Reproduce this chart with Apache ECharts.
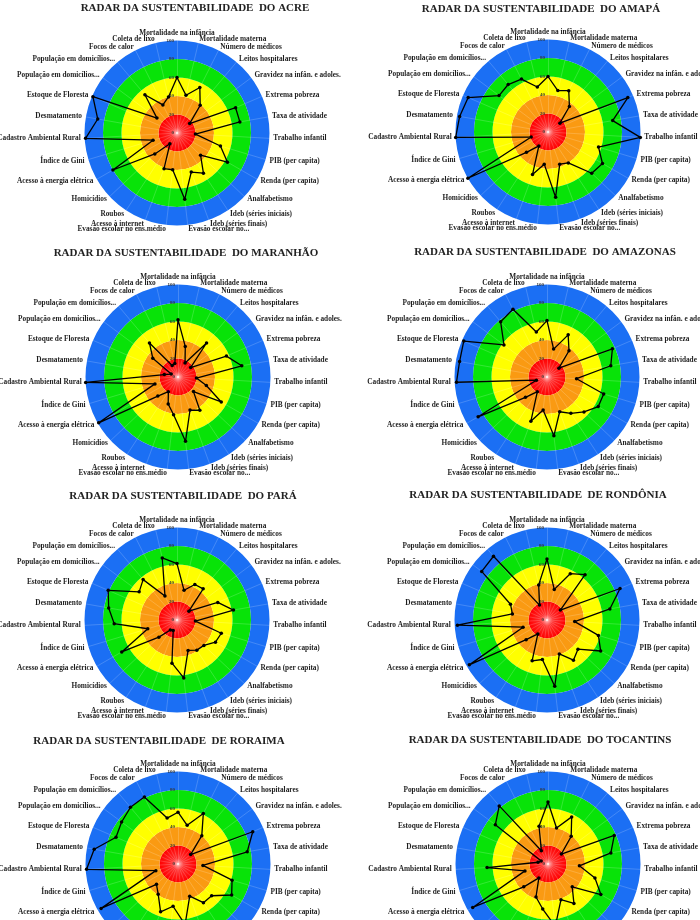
<!DOCTYPE html>
<html><head><meta charset="utf-8">
<script src="https://cdn.jsdelivr.net/npm/echarts@6/dist/echarts.min.js"></script>
<style>html,body{margin:0;padding:0;background:#fff}#c{width:700px;height:920px}</style>
</head><body><div id="c"></div>
<script>
// Indicators, clockwise from the top
const indicatorNames = [
  'Mortalidade na infância', 'Mortalidade materna', 'Número de médicos', 'Leitos hospitalares',
  'Gravidez na infân. e adoles.', 'Extrema pobreza', 'Taxa de atividade', 'Trabalho infantil',
  'PIB (per capita)', 'Renda (per capita)', 'Analfabetismo', 'Ideb (séries iniciais)',
  'Ideb (séries finais)', 'Evasão escolar no...', 'Evasão escolar no ens.médio', 'Acesso à internet',
  'Roubos', 'Homicídios', 'Acesso à energia elétrica', 'Índice de Gini', 'Cadastro Ambiental Rural',
  'Desmatamento', 'Estoque de Floresta', 'População em domicílios...', 'População em domicílios...',
  'Focos de calor', 'Coleta de lixo'
];
const scaleMin = 0;
const scaleMax = 100;
const scaleSplits = 5; // tick labels 0, 20, 40, 60, 80, 100

const titles = [
  'RADAR DA SUSTENTABILIDADE  DO ACRE', 'RADAR DA SUSTENTABILIDADE  DO AMAPÁ',
  'RADAR DA SUSTENTABILIDADE  DO MARANHÃO', 'RADAR DA SUSTENTABILIDADE  DO AMAZONAS',
  'RADAR DA SUSTENTABILIDADE  DO PARÁ', 'RADAR DA SUSTENTABILIDADE  DE RONDÔNIA',
  'RADAR DA SUSTENTABILIDADE  DE RORAIMA', 'RADAR DA SUSTENTABILIDADE  DO TOCANTINS'
];

const acre      = [60,42,55,39,17,69,69,20,49,63,35,52,45,72,40,41,14,33,80,27,99,87,99,27,54,34,40];
const amapa     = [60,46,50,36,16,94,71,100,57,68,65,40,37,71,35,49,18,32,100,19,100,97,94,66,67,64,50];
const maranhao  = [62,34,17,48,17,57,70,20,32,54,23,43,38,70,41,31,19,30,99,26,100,15,8,34,48,14,15];
const amazonas  = [61,31,51,37,16,77,70,32,64,64,55,47,40,64,36,51,19,32,86,12,98,96,98,58,78,82,50];
const para      = [61,33,43,44,16,48,62,20,50,48,40,39,35,63,47,12,13,27,69,33,68,75,81,51,57,29,69];
const rondonia  = [66,34,56,64,18,86,69,30,58,67,46,52,39,72,43,47,18,31,97,27,97,38,43,88,90,18,39];
const roraima   = [56,43,61,40,17,88,76,27,61,67,50,50,37,66,46,55,39,32,96,25,99,92,73,76,80,81,51];
const tocantins = [67,40,57,39,18,78,69,34,53,66,36,51,41,68,49,38,18,36,94,26,66,11,8,71,82,16,42];

const stateSeries = [acre, amapa, maranhao, amazonas, para, rondonia, roraima, tocantins];

// Layout (pixels)
const centers = [[177,133],[548,132],[178,377],[547,377],[177,620],[547,620],[178,864],[548,864]];
const titleCenters = [[195,10],[541,11],[186,255],[545,254],[183,498],[538,497],[159,743],[540,742]];
const radius = 92.5;

// ECharts radar runs counter-clockwise; reorder so the chart reads clockwise
const n = indicatorNames.length;
const order = indicatorNames.map((_, k) => (k === 0 ? 0 : n - k));

const redGrad = new echarts.graphic.RadialGradient(0.5, 0.5, 0.5, [
  {offset: 0, color: '#ff8c8c'}, {offset: 0.3, color: '#ff3030'}, {offset: 1, color: '#ff0000'}
]);
const bandColors = [redGrad, '#fa9a12', '#ffff00', '#08e308', '#1b6ff4'];

const labelFont = {color: '#1e1e1e', fontFamily: 'Liberation Serif', fontWeight: 'bold', fontSize: 7.3};

const radars = centers.map(c => ({
  center: c,
  radius: radius,
  shape: 'circle',
  splitNumber: scaleSplits,
  startAngle: 90,
  nameGap: 4,
  axisName: labelFont,
  indicator: order.map((idx, k) => {
    const o = {name: indicatorNames[idx], min: scaleMin, max: scaleMax};
    if (k === 0) {
      o.axisLabel = {show: true, fontSize: 5, color: '#333', fontWeight: 'bold', fontFamily: 'Liberation Serif', margin: 3};
    }
    return o;
  }),
  axisLabel: {show: false},
  axisTick: {show: false},
  axisLine: {show: true, lineStyle: {color: 'rgba(255,255,255,0.18)', width: 1}},
  splitLine: {show: false},
  splitArea: {show: true, areaStyle: {color: bandColors, opacity: 1}}
}));

const series = stateSeries.map((vals, i) => ({
  type: 'radar',
  radarIndex: i,
  symbol: 'circle',
  symbolSize: 3.5,
  lineStyle: {color: '#000', width: 1.3},
  itemStyle: {color: '#000'},
  silent: true,
  animation: false,
  data: [{value: order.map(idx => vals[idx])}]
}));

const title = titles.map((t, i) => ({
  text: t,
  left: titleCenters[i][0],
  top: titleCenters[i][1] - 7,
  textAlign: 'center',
  padding: 0,
  textStyle: {fontFamily: 'Liberation Serif', fontWeight: 'bold', fontSize: 11, color: '#222'}
}));

const chart = echarts.init(document.getElementById('c'));
chart.setOption({animation: false, title: title, radar: radars, series: series});
</script>
</body></html>
